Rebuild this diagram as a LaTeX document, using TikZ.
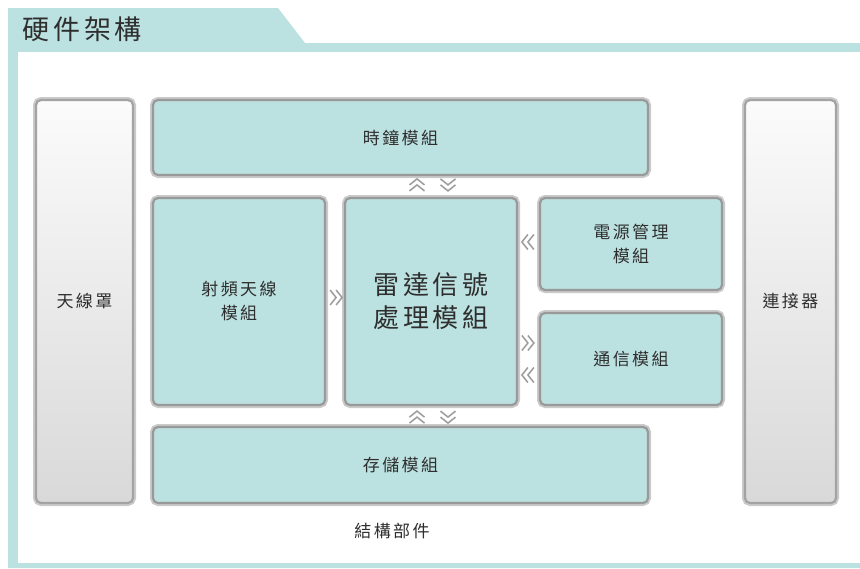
\documentclass[tikz,border=0pt]{standalone}
\usepackage{fontspec}
\setmainfont{Liberation Serif}
\newfontfamily\cjk[LetterSpace=14]{Noto Sans CJK TC}
\usetikzlibrary{calc}
\definecolor{tealbg}{HTML}{BCE1E1}
\definecolor{txt}{HTML}{2E2E2E}
\definecolor{chevc}{HTML}{9C9C9C}
\definecolor{rimlight}{HTML}{CACACA}
\definecolor{rimdark}{HTML}{999999}
\tikzset{
  box/.style={rounded corners=5pt, inner sep=0pt, fill=tealbg, draw=rimdark, line width=2.2pt,
    preaction={draw=rimlight, line width=6pt},
    font=\cjk\fontsize{17}{24}\selectfont, text=txt, align=center},
  sidebox/.style={box, fill=none, top color=white!97!gray, bottom color=gray!30, draw=gray!72},
  bigbox/.style={box, font=\cjk\fontsize{26}{33}\selectfont},
  chevline/.style={draw=chevc, line width=1.5pt},
  chev/.pic={
    \draw[chevline] (-6,-7.5)--(0,0)--(-6,7.5);
    \draw[chevline] (0,-7.5)--(6,0)--(0,7.5);
  }
}
\begin{document}
\begin{tikzpicture}[x=1pt,y=-1pt]
\useasboundingbox (0,0) rectangle (860,568);
\fill[white] (0,0) rectangle (860,568);
% frame
\fill[tealbg] (8,8) -- (278,8) -- (305,43) -- (860,43) -- (860,568) -- (8,568) -- cycle;
\fill[white] (18,52) rectangle (860,563);
\node[anchor=west, font=\cjk\fontsize{27}{32}\selectfont, text=txt] (title) at (19,29) {硬件架構};
% boxes
\node[sidebox, minimum width=97pt, minimum height=403pt] (radome) at (84.5,301.5) {天線罩};
\node[sidebox, minimum width=91pt, minimum height=403pt] (conn) at (790.5,301.5) {連接器};
\node[box, minimum width=495pt, minimum height=75pt] (clock) at (400.5,137.5) {時鐘模組};
\node[box, minimum width=172pt, minimum height=207pt] (rf) at (239,301.5) {射頻天線\\模組};
\node[bigbox, minimum width=172pt, minimum height=207pt] (proc) at (431,301.5) {雷達信號\\處理模組};
\node[box, minimum width=182pt, minimum height=92pt] (power) at (631,244) {電源管理\\模組};
\node[box, minimum width=182pt, minimum height=92pt] (comm) at (631,359) {通信模組};
\node[box, minimum width=495pt, minimum height=76pt] (store) at (400.5,465) {存儲模組};
\node[font=\cjk\fontsize{17}{20}\selectfont, text=txt] (struct) at (392,531) {結構部件};
% chevrons
\pic at ($(proc.north)+(-14,-12)$) [rotate=90] {chev};
\pic at ($(proc.north)+(17,-12)$) [rotate=-90] {chev};
\pic at ($(proc.south)+(-14,11)$) [rotate=90] {chev};
\pic at ($(proc.south)+(17,11)$) [rotate=-90] {chev};
\pic at ($(rf.east)+(10,-4)$) {chev};
\pic at ($(power.west)+(-11,-2)$) [rotate=180] {chev};
\pic at ($(comm.west)+(-11,-16)$) {chev};
\pic at ($(comm.west)+(-11,16)$) [rotate=180] {chev};
\end{tikzpicture}
\end{document}
